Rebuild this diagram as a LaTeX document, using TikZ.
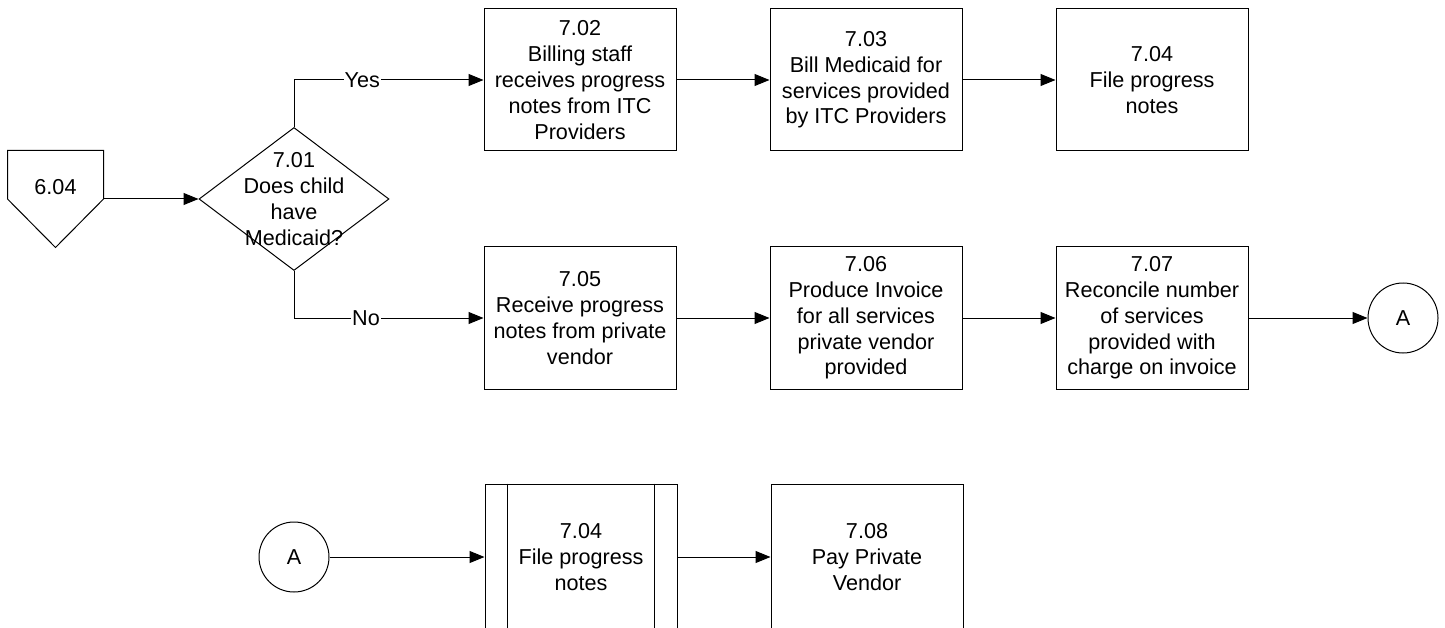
\documentclass[tikz,border=0pt]{standalone}
\usepackage{fontspec}
\setmainfont{Liberation Sans}
\usetikzlibrary{arrows.meta,positioning,shapes.geometric}

\begin{document}
\begin{tikzpicture}[x=1pt,y=1pt,->,>={Triangle[length=15pt,width=12pt]},
		line width=1pt,node distance=286pt,
		font=\fontsize{21.6}{25.8}\selectfont,
		task node/.style={rectangle,draw,minimum width=192pt,minimum height=142pt,
			inner sep=0pt,align=center},
		decision node/.style={diamond,draw,minimum width=190pt,minimum height=143pt,inner sep=0pt},
		link node/.style={circle,draw,minimum size=70pt,inner sep=0pt},
		branch label/.style={fill=white,inner sep=1pt}]
		
		\useasboundingbox (0,0) rectangle (1445,-628);
		
		% off-page reference and decision
		\node[minimum width=95pt,minimum height=96pt,inner sep=0pt] (p604) at (55.5,-199) {};
		\draw[-] (p604.north west) -- (p604.north east) -- (p604.east)
		-- (p604.south) -- (p604.west) -- cycle;
		\node (t604) at (55.5,-187) {6.04};
		\node[decision node] (d701) at (294,-199) {};
		\node[align=center] (q701) at (d701.center) {7.01\\Does child\\have\\Medicaid?};
		
		% Medicaid row
		\node[task node] (b702) at (580,-80) {7.02\\Billing staff\\receives progress\\notes from ITC\\Providers};
		\node[task node] (b703) [right of=b702] {7.03\\Bill Medicaid for\\services provided\\by ITC Providers};
		\node[task node] (b704) [right of=b703] {7.04\\File progress\\notes};
		
		% private vendor row
		\node[task node] (b705) at (580,-318) {7.05\\Receive progress\\notes from private\\vendor};
		\node[task node] (b706) [right of=b705] {7.06\\Produce Invoice\\for all services\\private vendor\\provided};
		\node[task node] (b707) [right of=b706] {7.07\\Reconcile number\\of services\\provided with\\charge on invoice};
		\node[link node] (aR) [right of=b707,node distance=251pt] {A};
		
		% continuation
		\node[link node] (aL) at (294,-557) {A};
		\node[task node,minimum height=146pt] (b704b) at (581,-557) {7.04\\File progress\\notes};
		\node[task node,minimum height=146pt] (b708) [right of=b704b] {7.08\\Pay Private\\Vendor};
		\draw[-] ([xshift=23pt]b704b.north west) -- ([xshift=23pt]b704b.south west);
		\draw[-] ([xshift=-23pt]b704b.north east) -- ([xshift=-23pt]b704b.south east);
		
		\path
		(p604.east) edge (d701.west)
		(b702) edge (b703)
		(b703) edge (b704)
		(b705) edge (b706)
		(b706) edge (b707)
		(b707) edge (aR)
		(aL) edge (b704b)
		(b704b) edge (b708);
		\draw (d701.north) |- node[branch label,pos=0.68] {Yes} (b702.west);
		\draw (d701.south) |- node[branch label,pos=0.69] {No} (b705.west);
\end{tikzpicture}
\end{document}
